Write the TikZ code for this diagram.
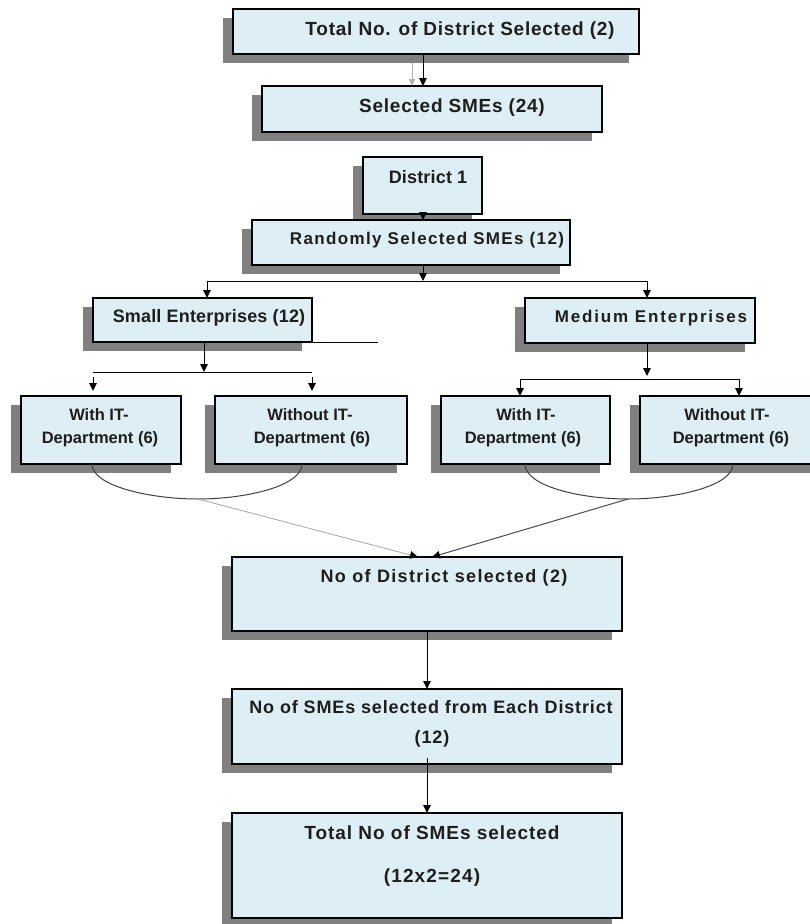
\documentclass[tikz,border=0pt]{standalone}
\usepackage{fontspec}
\setmainfont{Liberation Sans}
\usetikzlibrary{shadows,arrows.meta}
\definecolor{boxfill}{RGB}{221,238,244}
\definecolor{shade}{RGB}{128,128,128}
\definecolor{ink}{RGB}{30,30,30}
\newcommand\myfont[2]{\fontsize{#1}{#1}\selectfont\bfseries\addfontfeatures{LetterSpace=#2}}
\begin{document}
\begin{tikzpicture}[x=1pt,y=-1pt,
 box/.style={draw=black, line width=1.2pt, fill=boxfill, inner sep=0pt, outer sep=0pt,
   drop shadow={shadow xshift=-10pt, shadow yshift=-9pt, fill=shade, opacity=1}},
 lbl/.style={anchor=base, inner sep=0pt, outer sep=0pt, text=ink},
 arr/.style={draw=black, line width=1pt, -{Triangle[length=8pt,width=7.5pt,color=black]}},
 ln/.style={draw=black, line width=1pt},
]
\useasboundingbox (0,0) rectangle (809,924);
\fill[white] (0,0) rectangle (809,924);

% boxes
\node[box, minimum width=406pt, minimum height=45pt] (B1) at (436,31.5) {};
\node[box, minimum width=340pt, minimum height=46pt] (B2) at (432,109) {};
\node[box, minimum width=119pt, minimum height=57pt] (D1) at (422.5,185.5) {};
\node[box, minimum width=318pt, minimum height=45pt] (R) at (411,242.5) {};
\node[box, minimum width=219pt, minimum height=44pt] (SM) at (202.5,320) {};
\node[box, minimum width=230pt, minimum height=45pt] (MD) at (640,320.5) {};
\node[box, minimum width=160pt, minimum height=68pt] (WL1) at (101,430) {};
\node[box, minimum width=192pt, minimum height=68pt] (WL2) at (311,430) {};
\node[box, minimum width=169pt, minimum height=68pt] (WR1) at (525.5,430) {};
\node[box, minimum width=180pt, minimum height=68pt] (WR2) at (730,430) {};
\node[box, minimum width=390pt, minimum height=74pt] (DS) at (427,594) {};
\node[box, minimum width=390pt, minimum height=75pt] (NS) at (427,726.5) {};
\node[box, minimum width=390pt, minimum height=105pt] (TS) at (427,865.5) {};

% labels
\node[lbl, font=\myfont{19}{4}] (L1) at (460,35) {Total No. of District Selected (2)};
\node[lbl, font=\myfont{19}{4}] (L2) at (452,112) {Selected SMEs (24)};
\node[lbl, font=\myfont{18}{1}] (L3) at (428,183) {District 1};
\node[lbl, font=\myfont{17}{8}] (L4) at (427,244) {Randomly Selected SMEs (12)};
\node[lbl, font=\myfont{18}{1}] (L5) at (209,322) {Small Enterprises (12)};
\node[lbl, font=\myfont{17}{11}] (L6) at (651,322) {Medium Enterprises};
\node[lbl, font=\myfont{16.5}{0}] (L7a) at (99,420) {With IT-};
\node[lbl, font=\myfont{16.5}{0}] (L7b) at (100,443) {Department (6)};
\node[lbl, font=\myfont{16.5}{0}] (L8a) at (310,420) {Without IT-};
\node[lbl, font=\myfont{16.5}{0}] (L8b) at (312,443) {Department (6)};
\node[lbl, font=\myfont{16.5}{0}] (L9a) at (526,420) {With IT-};
\node[lbl, font=\myfont{16.5}{0}] (L9b) at (523,443) {Department (6)};
\node[lbl, font=\myfont{16.5}{0}] (L10a) at (727,420) {Without IT-};
\node[lbl, font=\myfont{16.5}{0}] (L10b) at (731,443) {Department (6)};
\node[lbl, font=\myfont{18}{7.5}] (L11) at (444,582) {No of District selected (2)};
\node[lbl, font=\myfont{18}{4.7}] (L12a) at (431,713) {No of SMEs selected from Each District};
\node[lbl, font=\myfont{18}{5}] (L12b) at (432,743) {(12)};
\node[lbl, font=\myfont{19}{5}] (L13a) at (432,839) {Total No of SMEs selected};
\node[lbl, font=\myfont{19}{6}] (L13b) at (432,882) {(12x2=24)};

% coordinates
\coordinate (c1) at (423,0);
\coordinate (g1) at (412,63);
\coordinate (bar1L) at (207,281);
\coordinate (bar1R) at (647,281);
\coordinate (ext) at (378,342);
\coordinate (c2) at (204,0);
\coordinate (bar2L) at (93,372);
\coordinate (bar2R) at (312,372);
\coordinate (s1) at (93,377);
\coordinate (s2) at (312,377);
\coordinate (c3) at (647,0);
\coordinate (bar3L) at (520,379);
\coordinate (bar3R) at (739,379);
\coordinate (k1) at (92,464);
\coordinate (k2) at (302,464);
\coordinate (m1) at (198,499);
\coordinate (k3) at (525,464);
\coordinate (k4) at (733,464);
\coordinate (m2) at (628,499);

% connectors
\draw[arr] (B1.south -| c1) -- (B2.north -| c1);
\draw[draw=gray!60, line width=0.8pt, -{Triangle[length=7pt,width=6pt,color=gray!60]}] (g1) -- (g1 |- B2.north);
\draw[arr] (D1.south -| c1) -- (R.north -| c1);
\draw[arr] (R.south -| c1) -- (c1 |- bar1L);
\draw[ln] (bar1L) -- (bar1R);
\draw[arr] (bar1L) -- (bar1L |- SM.north);
\draw[arr] (bar1R) -- (bar1R |- MD.north);
\draw[ln] (SM.south east) -- (ext);
\draw[arr] (SM.south -| c2) -- (c2 |- bar2L);
\draw[ln] (bar2L) -- (bar2R);
\draw[arr, shorten >=5pt] (s1) -- (s1 |- WL1.north);
\draw[arr, shorten >=5pt] (s2) -- (s2 |- WL2.north);
\draw[arr, shorten >=3pt] (MD.south -| c3) -- (c3 |- bar3L);
\draw[ln] (bar3L) -- (bar3R);
\draw[arr] (bar3L) -- (bar3L |- WR1.north);
\draw[arr] (bar3R) -- (bar3R |- WR2.north);

\draw[line width=1pt, draw=ink!85] (k1) .. controls (92,486) and (150,499) .. (m1) .. controls (246,499) and (302,486) .. (k2);
\draw[line width=1pt, draw=ink!85] (k3) .. controls (525,486) and (580,499) .. (m2) .. controls (676,499) and (733,486) .. (k4);
\draw[arr, draw=gray!70, line width=0.8pt] (m1) -- ([xshift=-9pt]DS.north);
\draw[arr, draw=ink!80, line width=1pt] (m2) -- ([xshift=5pt]DS.north);

\draw[arr] (DS.south) -- (NS.north);
\draw[arr] ([yshift=6pt]NS.south) -- (TS.north);
\end{tikzpicture}
\end{document}
